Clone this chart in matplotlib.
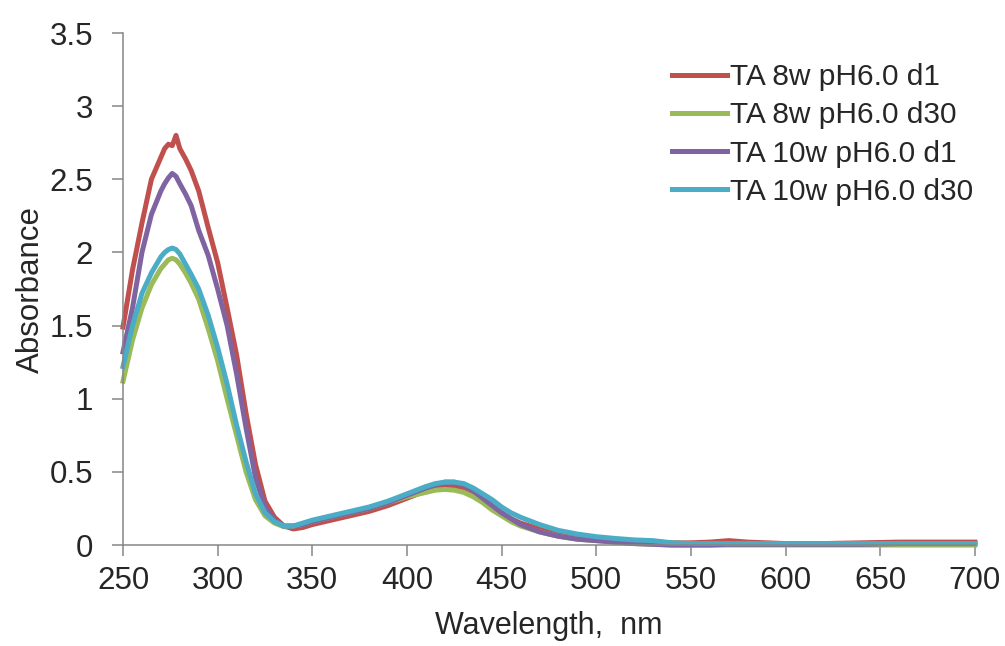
import matplotlib
matplotlib.use('Agg')
import matplotlib.pyplot as plt

plt.rcParams['font.family'] = ['Liberation Sans', 'DejaVu Sans']

# --- data ---
wavelength = [250, 255, 260, 265, 270, 272, 274, 276, 278, 280,
              283, 286, 290, 295, 300, 305, 310, 315, 320, 325,
              330, 335, 340, 345, 350, 360, 370, 380, 390, 400,
              410, 415, 420, 425, 430, 435, 440, 445, 450, 455,
              460, 470, 480, 490, 500, 510, 520, 530, 540, 550,
              560, 570, 580, 600, 620, 640, 660, 680, 700]

ta8_d1 = [1.49, 1.88, 2.20, 2.50, 2.65, 2.71, 2.74, 2.73, 2.80, 2.71,
          2.64, 2.56, 2.42, 2.17, 1.93, 1.62, 1.30, 0.90, 0.55, 0.30,
          0.19, 0.13, 0.11, 0.12, 0.14, 0.17, 0.20, 0.23, 0.27, 0.32,
          0.37, 0.39, 0.40, 0.40, 0.38, 0.35, 0.31, 0.26, 0.22, 0.18,
          0.15, 0.11, 0.08, 0.06, 0.045, 0.035, 0.025, 0.02, 0.015, 0.015,
          0.02, 0.03, 0.02, 0.01, 0.01, 0.015, 0.02, 0.02, 0.02]

ta8_d30 = [1.12, 1.40, 1.62, 1.78, 1.89, 1.92, 1.95, 1.96, 1.95, 1.92,
           1.86, 1.79, 1.68, 1.48, 1.26, 1.00, 0.75, 0.50, 0.31, 0.20,
           0.15, 0.125, 0.13, 0.14, 0.16, 0.19, 0.22, 0.25, 0.29, 0.33,
           0.36, 0.375, 0.38, 0.375, 0.36, 0.33, 0.29, 0.24, 0.20, 0.16,
           0.13, 0.09, 0.06, 0.04, 0.03, 0.02, 0.01, 0.005, 0.0, 0.0,
           0.0, 0.0, 0.0, 0.0, 0.0, 0.0, 0.0, 0.0, 0.0]

ta10_d1 = [1.32, 1.62, 2.00, 2.26, 2.42, 2.47, 2.51, 2.54, 2.52, 2.47,
           2.40, 2.32, 2.15, 1.98, 1.75, 1.50, 1.17, 0.80, 0.46, 0.26,
           0.17, 0.13, 0.13, 0.14, 0.16, 0.19, 0.22, 0.25, 0.29, 0.34,
           0.39, 0.41, 0.43, 0.43, 0.41, 0.37, 0.32, 0.27, 0.22, 0.18,
           0.14, 0.09, 0.06, 0.04, 0.03, 0.02, 0.01, 0.005, 0.0, 0.0,
           0.0, 0.005, 0.005, 0.005, 0.005, 0.005, 0.01, 0.01, 0.01]

ta10_d30 = [1.22, 1.50, 1.72, 1.86, 1.97, 2.00, 2.02, 2.03, 2.02, 1.99,
            1.92, 1.85, 1.75, 1.57, 1.35, 1.10, 0.82, 0.57, 0.35, 0.22,
            0.16, 0.13, 0.13, 0.15, 0.17, 0.20, 0.23, 0.26, 0.30, 0.35,
            0.40, 0.42, 0.43, 0.43, 0.42, 0.39, 0.35, 0.31, 0.26, 0.22,
            0.19, 0.14, 0.10, 0.075, 0.057, 0.045, 0.035, 0.03, 0.015, 0.01,
            0.01, 0.01, 0.01, 0.01, 0.01, 0.01, 0.01, 0.01, 0.01]

labels = ['TA 8w pH6.0 d1', 'TA 8w pH6.0 d30', 'TA 10w pH6.0 d1', 'TA 10w pH6.0 d30']
colors = ['#C0504D', '#9BBB59', '#8064A2', '#4BACC6']

xticks = [250, 300, 350, 400, 450, 500, 550, 600, 650, 700]
yticks = [0, 0.5, 1, 1.5, 2, 2.5, 3, 3.5]
ytick_labels = ['0', '0.5', '1', '1.5', '2', '2.5', '3', '3.5']

# --- figure ---
fig = plt.figure(figsize=(10.05, 6.46), dpi=100)
ax = fig.add_axes([0.1224, 0.1563, 0.8476, 0.7926])

for ys, lab, col in zip([ta8_d1, ta8_d30, ta10_d1, ta10_d30], labels, colors):
    ax.plot(wavelength, ys, color=col, linewidth=3.6, label=lab, clip_on=False)

ax.set_xlim(250, 700)
ax.set_ylim(0, 3.5)
ax.set_xticks(xticks)
ax.set_xticklabels([str(t) for t in xticks])
ax.set_yticks(yticks)
ax.set_yticklabels(ytick_labels)

for side in ['top', 'right']:
    ax.spines[side].set_visible(False)
for side in ['left', 'bottom']:
    ax.spines[side].set_color('#868686')
    ax.spines[side].set_linewidth(1.1)

ax.tick_params(axis='both', direction='out', length=8, width=1.1,
               color='#868686', labelcolor='#262626', labelsize=22.5)
ax.tick_params(axis='x', pad=7)
ax.tick_params(axis='y', pad=13.5)

ax.set_xlabel('Wavelength,  nm', fontsize=22, color='#262626')
ax.set_ylabel('Absorbance', fontsize=22.5, color='#262626')
ax.xaxis.set_label_coords(0.5, -0.129)
ax.yaxis.set_label_coords(-0.090, 0.5)

ax.legend(loc='upper left', bbox_to_anchor=(0.644, 0.941), frameon=False,
          fontsize=21.5, handlelength=1.85, handletextpad=0.1,
          labelspacing=0.34, borderpad=0, borderaxespad=0, labelcolor='#262626')

plt.savefig('out.png', dpi=100)
